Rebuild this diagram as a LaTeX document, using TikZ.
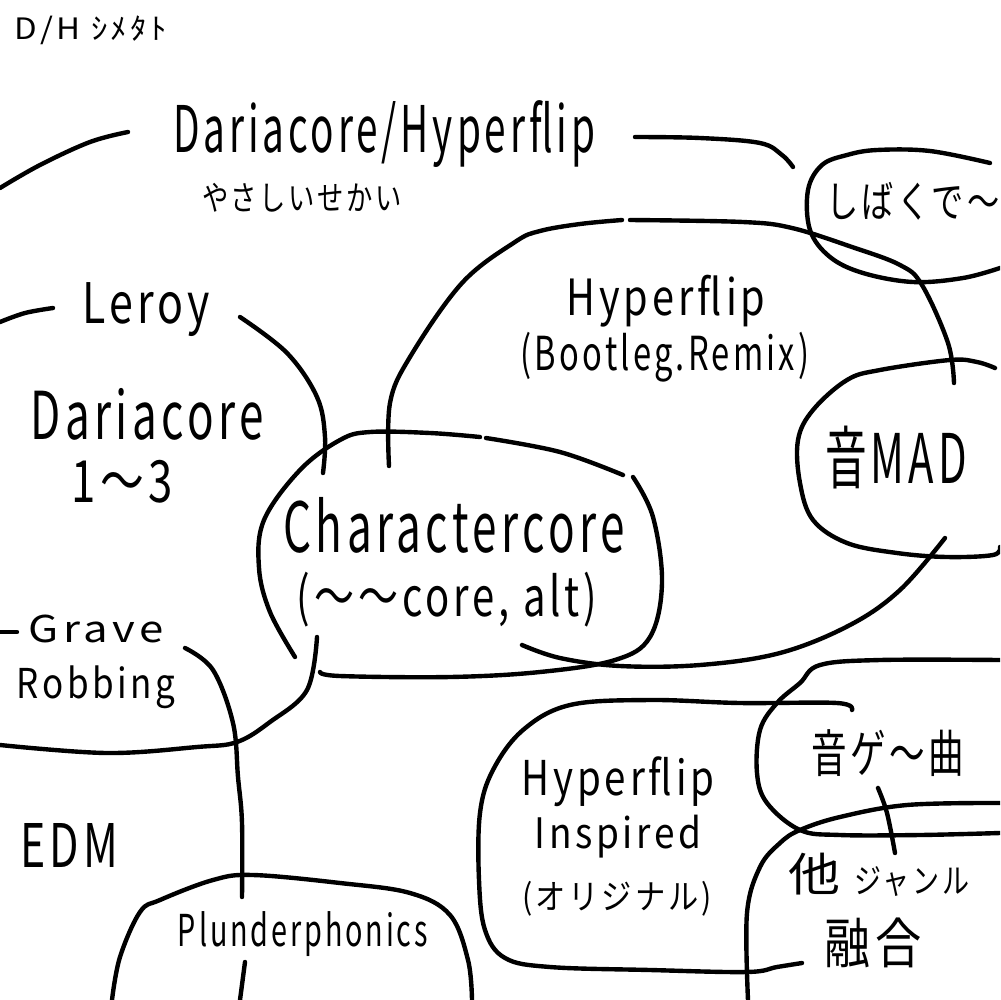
\documentclass[tikz,border=0pt]{standalone}
\usepackage{graphicx}
\usepackage{fontspec}
\newfontfamily\jp[LetterSpace=10]{Noto Sans CJK JP}
\newcommand{\fitx}[3]{\resizebox*{#1mm}{#2mm}{\jp #3}}
\tikzset{
  ink/.style={line width=1.25pt, line cap=round, line join=round},
  lbl/.style={inner sep=0pt, outer sep=0pt}
}
\begin{document}
\begin{tikzpicture}[x=0.1mm,y=-0.1mm]
\path[use as bounding box] (0,0) rectangle (1000,1000);
\fill[white] (0,0) rectangle (1000,1000);
\clip (0,0) rectangle (1000,1000);

% labels
\node[lbl] (dh)    at (91,30)   {\fitx{15.2}{2.9}{D/H ｼﾒﾀﾄ}};
\node[lbl] (dhf)   at (384,134) {\fitx{42.2}{6.7}{Dariacore/Hyperflip}};
\node[lbl] (yasa)  at (302,198) {\fitx{20.0}{2.9}{やさしいせかい}};
\node[lbl] (shiba) at (913,201) {\fitx{17.3}{3.8}{しばくで〜}};
\node[lbl] (hf1)   at (666,301) {\fitx{19.9}{5.2}{Hyperflip}};
\node[lbl] (boot)  at (665,357) {\fitx{28.9}{5.0}{(Bootleg.Remix)}};
\node[lbl] (leroy) at (146,310) {\fitx{12.8}{5.4}{Leroy}};
\node[lbl] (daria) at (147,414) {\fitx{23.3}{5.2}{Dariacore}};
\node[lbl] (one)   at (122,482) {\fitx{10.1}{4.3}{1〜3}};
\node[lbl] (otomad) at (896,458) {\fitx{14.2}{6.3}{音MAD}};
\node[lbl] (chara) at (454,525) {\fitx{34.1}{5.6}{Charactercore}};
\node[lbl] (alt)   at (447,600) {\fitx{30.1}{5.5}{(〜〜core, alt)}};
\node[lbl] (grave) at (96,629)  {\fitx{13.5}{2.8}{Grave}};
\node[lbl] (rob)   at (96,687)  {\fitx{15.8}{4.3}{Robbing}};
\node[lbl] (edm)   at (69,845)  {\fitx{9.8}{4.4}{EDM}};
\node[lbl] (plun)  at (303,934) {\fitx{25.0}{4.5}{Plunderphonics}};
\node[lbl] (hf2)   at (618,782) {\fitx{19.3}{5.0}{Hyperflip}};
\node[lbl] (insp)  at (618,837) {\fitx{16.7}{4.3}{Inspired}};
\node[lbl] (orig)  at (617,899) {\fitx{19.0}{3.5}{(オリジナル)}};
\node[lbl] (otoge) at (888,753) {\fitx{15.3}{4.7}{音ゲ〜曲}};
\node[lbl] (ta)    at (814,874) {\fitx{5.2}{4.2}{他}};
\node[lbl] (genre) at (912,882) {\fitx{11.5}{3.0}{ジャンル}};
\node[lbl] (yugo)  at (873,943) {\fitx{9.7}{5.0}{融合}};

% strokes
\draw[ink] plot[smooth, tension=0.6] coordinates {(0,188) (40,165) (90,142) (128,132)};
\draw[ink] plot[smooth, tension=0.6] coordinates {(635,137) (700,138) (760,143) (782,155) (793,167)};
% shibakude ellipse
\draw[ink] plot[smooth, tension=0.6] coordinates {(990,163) (930,151) (877,150) (847,155) (822,165) (808,190) (810,230) (830,257) (863,273) (913,282) (963,278) (1000,268)};
% Hyperflip bootleg region
\draw[ink] plot[smooth, tension=0.6] coordinates {(389,466) (390,403) (410,357) (462,283) (515,242) (540,231) (580,224) (622,220)};
\draw[ink] plot[smooth, tension=0.6] coordinates {(630,220) (743,222) (792,228) (852,247) (900,265) (922,285) (948,343) (954,383)};
% Leroy arc
\draw[ink] plot[smooth, tension=0.6] coordinates {(240,317) (287,353) (317,397) (325,437) (323,473)};
\draw[ink] plot[smooth, tension=0.6] coordinates {(0,322) (25,313) (53,308)};
% Charactercore
\draw[ink] plot[smooth, tension=0.6] coordinates {(295,657) (270,612) (259,568) (264,520) (300,470) (340,440) (370,432) (430,433) (480,437)};
\draw[ink] plot[smooth, tension=0.6] coordinates {(486,438) (560,452) (623,475)};
\draw[ink] plot[smooth, tension=0.6] coordinates {(633,477) (653,517) (662,583) (650,637) (615,660) (540,672) (450,677) (340,676) (320,672)};
% bottom-left region
\draw[ink] plot[smooth, tension=0.6] coordinates {(317,637) (307,690) (270,722) (237,742) (197,747) (107,753) (0,745)};
\draw[ink] (0,632) -- (17,632);
% Grave line
\draw[ink] plot[smooth, tension=0.6] coordinates {(185,648) (213,670) (233,723) (238,777) (242,823) (242,897)};
\draw[ink] (245,962) -- (240,1000);
% Plunderphonics
\draw[ink] plot[smooth, tension=0.6] coordinates {(112,1000) (120,957) (140,912) (160,900) (213,880) (253,875) (340,883) (410,893) (450,915) (468,960) (472,1000)};
% otoMAD tail
\draw[ink] plot[smooth, tension=0.6] coordinates {(945,538) (900,590) (850,625) (780,653) (700,665) (620,666) (560,658) (522,645)};
% otoMAD blob
\draw[ink] plot[smooth, tension=0.6] coordinates {(995,368) (977,362) (950,360) (880,370) (847,380) (813,410) (798,440) (800,483) (813,520) (847,543) (897,553) (947,557) (993,555) (1000,547)};
% otoge blob
\draw[ink] plot[smooth, tension=0.6] coordinates {(1000,660) (880,660) (820,665) (800,683) (777,703) (760,730) (757,773) (767,803) (800,830) (840,835) (920,835) (1000,833)};
% Inspired blob
\draw[ink] plot[smooth, tension=0.6] coordinates {(852,710) (837,703) (740,703) (650,700) (570,705) (523,730) (493,770) (480,813) (479,880) (485,930) (505,958) (550,967) (650,970) (747,972) (777,967) (802,963)};
% other genre blob
\draw[ink] plot[smooth, tension=0.6] coordinates {(748,1000) (747,913) (760,867) (780,843) (800,830) (840,817) (907,805) (1000,803)};
\draw[ink] plot[smooth, tension=0.6] coordinates {(878,788) (887,813) (895,853)};
\end{tikzpicture}
\end{document}
